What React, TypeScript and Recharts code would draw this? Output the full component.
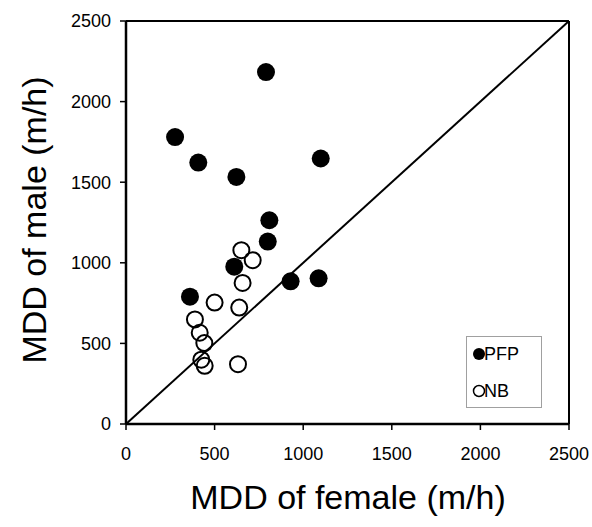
import {
  ScatterChart,
  Scatter,
  XAxis,
  YAxis,
  ReferenceLine,
  Legend,
} from "recharts";

const ticks = [0, 500, 1000, 1500, 2000, 2500];
const seriesNames = ["PFP", "NB"];

// PFP (filled circles)
const pfpFemale = [790, 277, 408, 623, 1099, 809, 800, 611, 361, 929, 1087];
const pfpMale = [2183, 1780, 1622, 1533, 1647, 1264, 1132, 976, 790, 885, 904];

// NB (open circles)
const nbFemale = [651, 715, 658, 500, 639, 389, 416, 442, 425, 444, 632];
const nbMale = [1078, 1016, 875, 753, 722, 649, 566, 502, 399, 361, 371];

const pfpData = pfpFemale.map((x, i) => ({ x, y: pfpMale[i] }));
const nbData = nbFemale.map((x, i) => ({ x, y: nbMale[i] }));

const font = "'Liberation Sans', Arial, Helvetica, sans-serif";

const FilledDot = (p: any) => <circle cx={p.cx} cy={p.cy} r={9} fill="#000" />;
const OpenDot = (p: any) => (
  <circle cx={p.cx} cy={p.cy} r={8} fill="none" stroke="#000" strokeWidth={2} />
);

const LegendBox = (props: any) => {
  const payload = [...(props.payload || [])].sort(
    (a: any, b: any) => seriesNames.indexOf(a.value) - seriesNames.indexOf(b.value)
  );
  return (
    <svg width={76} height={72} style={{ display: "block" }}>
      <rect x={0.5} y={0.5} width={75} height={71} fill="#fff" stroke="#a0a0a0" />
      {payload.map((entry: any, i: number) => {
        const cy = 18 + i * 37;
        const filled = entry.value === seriesNames[0];
        return (
          <g key={entry.value}>
            {filled ? (
              <circle cx={13} cy={cy} r={6} fill="#000" />
            ) : (
              <circle cx={13} cy={cy} r={5.5} fill="none" stroke="#000" strokeWidth={1.5} />
            )}
            <text x={18} y={cy + 6} fontSize={18} fontFamily={font} fill="#000">
              {entry.value}
            </text>
          </g>
        );
      })}
    </svg>
  );
};

export default function App() {
  return (
    <div style={{ position: "absolute", left: 0, top: 0, fontFamily: font }}>
      <ScatterChart
        width={592}
        height={527}
        margin={{ top: 21, right: 23, bottom: 0, left: 0 }}
      >
        <XAxis
          type="number"
          dataKey="x"
          domain={[0, 2500]}
          ticks={ticks}
          tickSize={6}
          tickMargin={17}
          height={103}
          axisLine={{ stroke: "#000", strokeWidth: 2.5 }}
          tickLine={{ stroke: "#000", strokeWidth: 1.5 }}
          tick={{ fill: "#000", fontSize: 18, fontFamily: font }}
          label={{
            content: () => (
              <text
                x={348}
                y={509}
                textAnchor="middle"
                fontSize={34}
                fontFamily={font}
                fill="#000"
              >
                MDD of female (m/h)
              </text>
            ),
          }}
        />
        <YAxis
          type="number"
          dataKey="y"
          domain={[0, 2500]}
          ticks={ticks}
          tickSize={6}
          tickMargin={9}
          width={126}
          axisLine={{ stroke: "#000", strokeWidth: 2.5 }}
          tickLine={{ stroke: "#000", strokeWidth: 1.5 }}
          tick={{ fill: "#000", fontSize: 18, fontFamily: font }}
          label={{
            content: () => (
              <text
                x={46}
                y={220}
                transform="rotate(-90 46 220)"
                textAnchor="middle"
                fontSize={34}
                fontFamily={font}
                fill="#000"
              >
                MDD of male (m/h)
              </text>
            ),
          }}
        />
        <ReferenceLine y={2500} stroke="#000" strokeWidth={2} />
        <ReferenceLine x={2500} stroke="#000" strokeWidth={2} />
        <ReferenceLine
          segment={[
            { x: 0, y: 0 },
            { x: 2500, y: 2500 },
          ]}
          stroke="#000"
          strokeWidth={2}
        />
        <Legend
          layout="vertical"
          align="center"
          verticalAlign="middle"
          content={LegendBox}
          wrapperStyle={{ left: 466, top: 336, width: 76, height: 72 }}
        />
        <Scatter
          name={seriesNames[0]}
          data={pfpData}
          shape={FilledDot}
          isAnimationActive={false}
        />
        <Scatter
          name={seriesNames[1]}
          data={nbData}
          shape={OpenDot}
          isAnimationActive={false}
        />
      </ScatterChart>
    </div>
  );
}
